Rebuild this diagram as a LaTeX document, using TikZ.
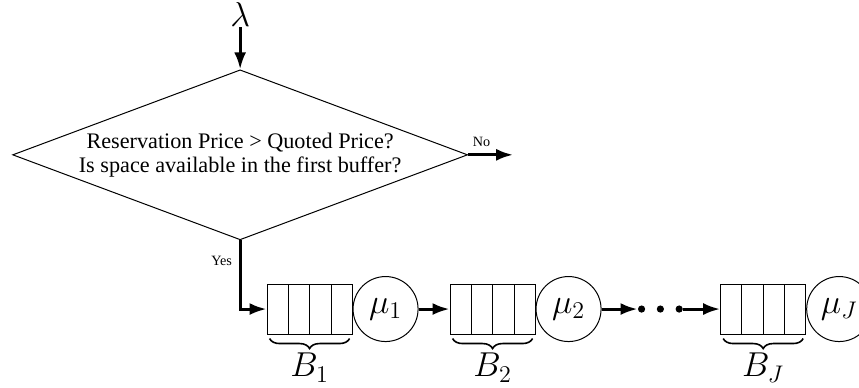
\documentclass[tikz,border=0pt]{standalone}
\usepackage[no-math]{fontspec}
\setmainfont{Liberation Serif}
\usepackage{tikz}
\usetikzlibrary{arrows.meta, positioning, shapes, calc, decorations.pathreplacing}

\begin{document}
\begin{tikzpicture}[
    flow/.style={-{Latex[length=8.5pt, width=6pt]}, line width=1.5pt},
    decision/.style={diamond, draw, line width=0.5pt, aspect=2.85, inner sep=0pt,
      minimum width=227.5pt, minimum height=85pt, align=center,
      font=\fontsize{11.1}{12}\selectfont},
    buffer/.style={rectangle, draw, line width=0.5pt, minimum width=42.5pt,
      minimum height=25pt, inner sep=0pt},
    server/.style={circle, draw, line width=0.5pt, minimum size=32.5pt,
      inner sep=0pt, font=\LARGE},
    qdot/.style={circle, fill, minimum size=3.6pt, inner sep=0pt},
    tag/.style={font=\fontsize{7.1}{8.5}\selectfont},
    capbrace/.style={decorate, decoration={brace, mirror, amplitude=5pt}, line width=0.8pt},
  ]
  \useasboundingbox (0,0) rectangle (15.095,6.801);
  % Admission decision
  \node[decision] (query) at (4.22,4.08)
    {Reservation Price > Quoted Price?\\Is space available in the first buffer?};
  \node[font=\LARGE, inner sep=0pt] (arrival) at (4.22,6.54) {$\lambda$};
  \draw[flow] (arrival) -- (query.north);
  \coordinate[right=22.5pt of query.east] (reject);
  \draw[flow] (query.east) -- node[tag, above, pos=0.3] (no) {No} (reject);
  % Tandem line
  \node[buffer] (b1) at (5.44,1.37) {};
  \node[server, right=0pt of b1] (s1) {$\mu_1$};
  \node[buffer, right=15.5pt of s1] (b2) {};
  \node[server, right=0pt of b2] (s2) {$\mu_2$};
  \node[qdot, right=18pt of s2] (dot1) {};
  \node[qdot, right=5.4pt of dot1] (dot2) {};
  \node[qdot, right=5.4pt of dot2] (dot3) {};
  \node[buffer, right=18.5pt of dot3] (bj) {};
  \node[server, right=0pt of bj] (sJ) {$\mu_J$};
  \draw[flow] (query.south) |- node[tag, left, pos=0.15] (yes) {Yes} (b1.west);
  \draw[flow] (s1) -- (b2);
  \draw[flow] (s2) -- (dot1);
  \draw[flow] (dot3) -- (bj);
  % Buffer slots and capacities
  \foreach \q/\k in {b1/1, b2/2, bj/J} {
    \foreach \i in {1,2,3}
      \draw[line width=0.5pt] ($(\q.south west)!\i/4!(\q.south east)$)
        -- ($(\q.north west)!\i/4!(\q.north east)$);
    \draw[capbrace] ($(\q.south west)+(1.5pt,-2pt)$) -- ($(\q.south east)+(-1.5pt,-2pt)$)
      node[midway, below=7pt, inner sep=0pt, font=\LARGE] (cap\q) {$B_\k$};
  }
\end{tikzpicture}
\end{document}
